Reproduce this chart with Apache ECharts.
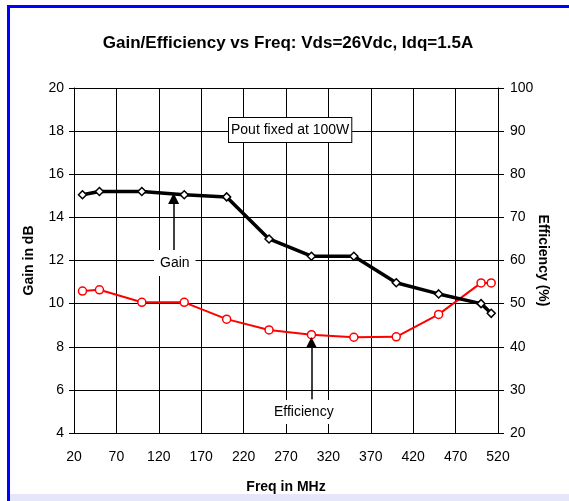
<!DOCTYPE html>
<html>
<head>
<meta charset="utf-8">
<script src="https://cdn.jsdelivr.net/npm/echarts@6/dist/echarts.min.js"></script>
<style>
  html, body { margin: 0; padding: 0; background: #fff; }
  #chart { width: 569px; height: 501px; }
</style>
</head>
<body>
<div id="chart"></div>
<script>
// frequency points in MHz
var freq = [30, 50, 100, 150, 200, 250, 300, 350, 400, 450, 500, 512];
// gain in dB
var gain = [15.05, 15.2, 15.2, 15.05, 14.95, 13.0, 12.2, 12.2, 10.97, 10.45, 10.0, 9.55];
// drain efficiency in %
var efficiency = [52.9, 53.2, 50.3, 50.3, 46.4, 43.9, 42.8, 42.2, 42.3, 47.5, 54.8, 54.8];

var font = "'Liberation Sans', Arial, sans-serif";
var black = "#000";

function pairs(xs, ys) {
  return xs.map(function (x, i) { return [x, ys[i]]; });
}

var chart = echarts.init(document.getElementById("chart"));

var option = {
  backgroundColor: "#fff",
  animation: false,
  title: {
    text: "Gain/Efficiency vs Freq: Vds=26Vdc, Idq=1.5A",
    left: 283,
    textAlign: "center",
    top: 30,
    textStyle: { fontFamily: font, fontSize: 17, fontWeight: "bold", color: black }
  },
  grid: { left: 74, right: 71, top: 88, bottom: 68 },
  xAxis: {
    type: "value",
    min: 20,
    max: 520,
    interval: 50,
    name: "Freq in MHz",
    nameLocation: "middle",
    nameGap: 47,
    nameTextStyle: { fontFamily: font, fontSize: 14, fontWeight: "bold", color: black },
    axisLine: { show: true, lineStyle: { color: black, width: 1 } },
    axisTick: { show: false },
    axisLabel: { fontFamily: font, fontSize: 14, color: black, margin: 17 },
    splitLine: { show: true, lineStyle: { color: black, width: 1 } }
  },
  yAxis: [
    {
      type: "value",
      min: 4,
      max: 20,
      interval: 2,
      name: "Gain in dB",
      nameLocation: "middle",
      nameMoveOverlap: false,
      nameGap: 38,
      nameTextStyle: { fontFamily: font, fontSize: 14, fontWeight: "bold", color: black },
      axisLine: { show: true, lineStyle: { color: black, width: 1 } },
      axisTick: { show: true, length: 5, lineStyle: { color: black } },
      axisLabel: { fontFamily: font, fontSize: 14, color: black, margin: 10 },
      splitLine: { show: true, lineStyle: { color: black, width: 1 } }
    },
    {
      type: "value",
      min: 20,
      max: 100,
      interval: 10,
      position: "right",
      name: "Efficiency (%)",
      nameLocation: "middle",
      nameRotate: -90,
      nameMoveOverlap: false,
      nameGap: 38,
      nameTextStyle: { fontFamily: font, fontSize: 14, fontWeight: "bold", color: black },
      axisLine: { show: true, lineStyle: { color: black, width: 1 } },
      axisTick: { show: true, length: 6, lineStyle: { color: black } },
      axisLabel: { fontFamily: font, fontSize: 14, color: black, margin: 12 },
      splitLine: { show: false }
    }
  ],
  series: [
    {
      name: "Gain",
      type: "line",
      yAxisIndex: 0,
      data: pairs(freq, gain),
      symbol: "diamond",
      symbolSize: 8,
      lineStyle: { color: black, width: 3.5 },
      itemStyle: { color: "#fff", borderColor: black, borderWidth: 1.5 },
      markLine: {
        silent: true,
        symbol: ["none", "triangle"],
        symbolSize: 11,
        label: { show: false },
        lineStyle: { color: black, width: 1.5, type: "solid" },
        data: [[{ coord: [137.5, 12.48] }, { coord: [137.5, 14.87] }]]
      },
      z: 3
    },
    {
      name: "Efficiency",
      type: "line",
      yAxisIndex: 1,
      data: pairs(freq, efficiency),
      symbol: "circle",
      symbolSize: 8,
      lineStyle: { color: "#ff0000", width: 2 },
      itemStyle: { color: "#fff", borderColor: "#ff0000", borderWidth: 1.5 },
      markLine: {
        silent: true,
        symbol: ["none", "triangle"],
        symbolSize: 11,
        label: { show: false },
        lineStyle: { color: black, width: 1.5, type: "solid" },
        data: [[{ coord: [300, 27.8] }, { coord: [300, 41.0] }]]
      },
      z: 2
    }
  ],
  graphic: [
    // page frame
    { type: "rect", shape: { x: 7, y: 5, width: 3, height: 496 }, style: { fill: "#0000ff" }, z: 100 },
    { type: "rect", shape: { x: 7, y: 5, width: 562, height: 3 }, style: { fill: "#0000ff" }, z: 100 },
    { type: "rect", shape: { x: 10, y: 494, width: 559, height: 7 }, style: { fill: "#e6e6fa" }, z: 100 },
    // annotations
    {
      type: "text", left: 154, top: 250, z: 100,
      style: {
        text: "Gain", font: "14px " + font, fill: black,
        backgroundColor: "#fff", padding: [6, 6, 6, 6]
      }
    },
    {
      type: "text", left: 270, top: 400, z: 100,
      style: {
        text: "Efficiency", font: "14px " + font, fill: black,
        backgroundColor: "#fff", padding: [5, 4, 5, 4]
      }
    },
    {
      type: "text", left: 228, top: 117, z: 100,
      style: {
        text: "Pout fixed at 100W", font: "14px " + font, fill: black,
        backgroundColor: "#fff", borderColor: black, borderWidth: 1,
        padding: [5, 2, 5, 2]
      }
    }
  ]
};

chart.setOption(option);
</script>
</body>
</html>
